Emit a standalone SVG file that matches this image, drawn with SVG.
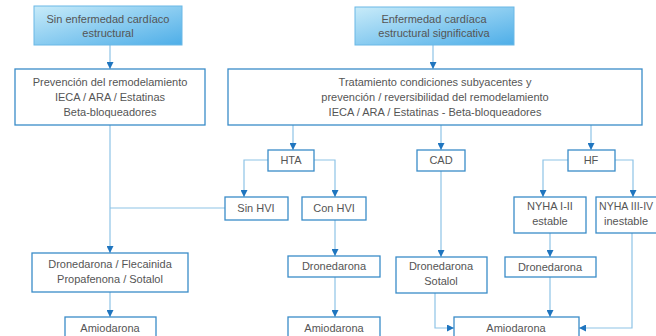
<svg xmlns="http://www.w3.org/2000/svg" width="656" height="336" viewBox="0 0 656 336">
<style>
.box{fill:#fff;stroke:#3a8cc8;stroke-width:1.3}
.grad{fill:url(#g);stroke:#6ab8e6;stroke-width:1}
.conn{stroke:#8ec3e6;stroke-width:1.2;fill:none}
.arr{stroke:#8ec3e6;stroke-width:1.2;fill:none;marker-end:url(#ah)}
text{font-family:"Liberation Sans",Arial,sans-serif;font-size:11px;fill:#555;text-anchor:middle}
</style>
<defs>
<linearGradient id="g" x1="0" y1="0" x2="1" y2="1">
<stop offset="0" stop-color="#c8ebf9"/>
<stop offset="1" stop-color="#4eaee8"/>
</linearGradient>
<marker id="ah" markerUnits="userSpaceOnUse" markerWidth="8" markerHeight="7" refX="7" refY="3.5" orient="auto">
<path d="M0,0 L7,3.5 L0,7 z" fill="#1f75bf"/>
</marker>
</defs>
<rect width="656" height="336" fill="#fff"/>
<g id="connectors">
<path class="arr" d="M110,45 V69"/>
<path class="arr" d="M433,45 V69"/>
<path class="arr" d="M110,125 V253"/>
<path class="conn" d="M110,208 H225"/>
<path class="arr" d="M110,292 V317"/>
<path class="arr" d="M293,125 V150"/>
<path class="arr" d="M441,125 V150"/>
<path class="arr" d="M591,125 V150"/>
<path class="arr" d="M268,160 H244 V197"/>
<path class="arr" d="M314,160 H335 V197"/>
<path class="arr" d="M335,220 V256"/>
<path class="arr" d="M335,277 V317"/>
<path class="arr" d="M441,171 V257"/>
<path class="arr" d="M568,160 H543 V197"/>
<path class="arr" d="M615,160 H633 V197"/>
<path class="arr" d="M550,233 V257"/>
<path class="arr" d="M550,277 V317"/>
<path class="arr" d="M632,233 V328 H579"/>
<path class="arr" d="M435,293 V328 H454"/>
</g>
<g id="n1"><rect class="grad" x="34" y="6" width="148" height="39"/><text x="108" y="23">Sin enfermedad cardíaco</text><text x="108" y="37">estructural</text></g>
<g id="n2"><rect class="grad" x="355" y="7" width="159" height="38"/><text x="434" y="23">Enfermedad cardíaca</text><text x="434" y="37">estructural significativa</text></g>
<g id="n3"><rect class="box" x="15" y="69" width="190" height="56"/><text x="110" y="86">Prevención del remodelamiento</text><text x="110" y="101">IECA / ARA / Estatinas</text><text x="110" y="116">Beta-bloqueadores</text></g>
<g id="n4"><rect class="box" x="228" y="69" width="414" height="56"/><text x="435" y="86">Tratamiento condiciones subyacentes y</text><text x="435" y="101">prevención / reversibilidad del remodelamiento</text><text x="435" y="116">IECA / ARA / Estatinas - Beta-bloqueadores</text></g>
<g id="n5"><rect class="box" x="268" y="150" width="46" height="21"/><text x="291" y="164">HTA</text></g>
<g id="n6"><rect class="box" x="417" y="150" width="48" height="21"/><text x="441" y="164">CAD</text></g>
<g id="n7"><rect class="box" x="568" y="150" width="47" height="21"/><text x="591" y="164">HF</text></g>
<g id="n8"><rect class="box" x="225" y="197" width="63" height="23"/><text x="256" y="212">Sin HVI</text></g>
<g id="n9"><rect class="box" x="302" y="197" width="64" height="23"/><text x="334" y="212">Con HVI</text></g>
<g id="n10"><rect class="box" x="514" y="197" width="72" height="36"/><text x="550" y="210">NYHA I-II</text><text x="550" y="225">estable</text></g>
<g id="n11"><rect class="box" x="596" y="197" width="72" height="36"/><text x="599" y="210" style="text-anchor:start;font-size:10.6px">NYHA III-IV</text><text x="626" y="225">inestable</text></g>
<g id="n12"><rect class="box" x="32" y="253" width="156" height="39"/><text x="110" y="268">Dronedarona / Flecainida</text><text x="110" y="283">Propafenona / Sotalol</text></g>
<g id="n13"><rect class="box" x="288" y="256" width="92" height="21"/><text x="334" y="270">Dronedarona</text></g>
<g id="n14"><rect class="box" x="396" y="257" width="91" height="36"/><text x="441" y="270">Dronedarona</text><text x="441" y="285">Sotalol</text></g>
<g id="n15"><rect class="box" x="505" y="257" width="91" height="20"/><text x="550" y="271">Dronedarona</text></g>
<g id="n16"><rect class="box" x="65" y="317" width="91" height="24"/><text x="110" y="332">Amiodarona</text></g>
<g id="n17"><rect class="box" x="288" y="317" width="92" height="24"/><text x="334" y="332">Amiodarona</text></g>
<g id="n18"><rect class="box" x="454" y="317" width="125" height="24"/><text x="516" y="332">Amiodarona</text></g>
</svg>
